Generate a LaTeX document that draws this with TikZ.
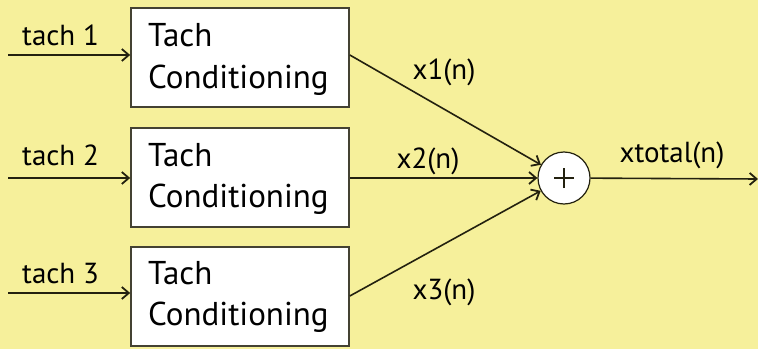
\documentclass[tikz,border=0pt]{standalone}
\usepackage{fontspec}
\setmainfont{PT Sans}
\usetikzlibrary{arrows.meta}
\definecolor{bg}{RGB}{246,240,155}
\definecolor{ln}{RGB}{35,33,15}
\tikzset{
  x=1pt,y=1pt,
  block/.style={draw=ln!85!white,line width=1.6pt,fill=white,minimum width=218pt,minimum height=99pt,inner sep=0pt},
  btext/.style={font=\fontsize{33}{40}\selectfont,anchor=base west,inner sep=0pt},
  lbl/.style={font=\fontsize{29}{32}\selectfont,inner sep=0pt},
  sig/.style={draw=ln,line width=1.6pt,-{Straight Barb[length=7pt,width=12pt,line width=1.8pt]}},
}
\begin{document}
\begin{tikzpicture}
\fill[bg] (0,0) rectangle (758,349);
\useasboundingbox (0,0) rectangle (758,349);
% blocks
\node[block] (b1) at (240,291.5) {};
\node[block] (b2) at (240,171.5) {};
\node[block] (b3) at (240,52.5) {};
\node[btext] (t1a) at (148,302) {Tach};
\node[btext] (t1b) at (148,261) {Conditioning};
\node[btext] (t2a) at (148,183) {Tach};
\node[btext] (t2b) at (148,142) {Conditioning};
\node[btext] (t3a) at (148,65) {Tach};
\node[btext] (t3b) at (148,24) {Conditioning};
% inputs
\coordinate (i1) at (8,294);
\coordinate (i2) at (8,171);
\coordinate (i3) at (8,56);
\draw[sig] (i1) -- (b1.west |- i1);
\draw[sig] (i2) -- (b2.west |- i2);
\draw[sig] (i3) -- (b3.west |- i3);
\node[lbl,anchor=base west] (l1) at (22,304) {tach 1};
\node[lbl,anchor=base west] (l2) at (22,184) {tach 2};
\node[lbl,anchor=base west] (l3) at (22,66) {tach 3};
% sum
\node[draw=ln,line width=1.2pt,fill=white,circle,minimum size=52pt,inner sep=0pt] (s) at (564,171) {};
\draw[ln,line width=1.6pt] ([xshift=-10pt]s.center) -- ([xshift=10pt]s.center)
  ([yshift=-10pt]s.center) -- ([yshift=10pt]s.center);
\draw[sig] (b1.east |- 0,294) -- (s);
\draw[sig] (b2.east |- s) -- (s);
\draw[sig] (b3.east |- 0,53) -- (s);
\coordinate (o) at (758,170);
\draw[sig] (s) -- (o);
\node[lbl] (x1) at (444,277) {x1(n)};
\node[lbl] (x2) at (428,188) {x2(n)};
\node[lbl] (x3) at (444,57) {x3(n)};
\node[lbl] (xt) at (672,194) {xtotal(n)};
\end{tikzpicture}
\end{document}
